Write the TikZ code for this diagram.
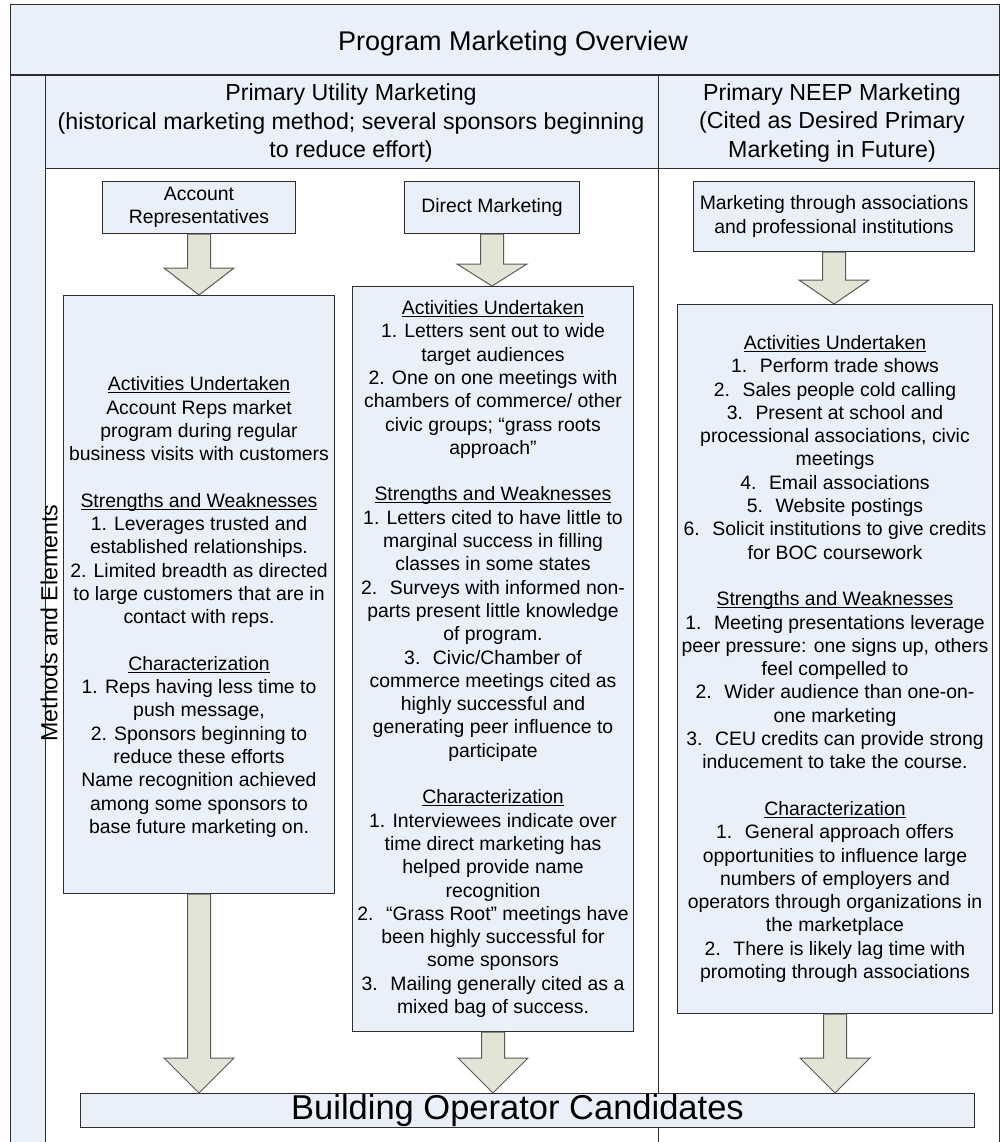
\documentclass[tikz,border=0pt]{standalone}
\usepackage{fontspec}
\setmainfont{Liberation Sans}
\usetikzlibrary{calc}
\definecolor{boxfill}{HTML}{EAF0F9}
\definecolor{arrfill}{HTML}{E2E5D6}
\definecolor{arrline}{HTML}{5A5A5A}
\definecolor{boxline}{HTML}{2E2E2E}
\newcommand\hd[1]{\setbox0=\hbox{#1}\rlap{\rule[-2.4pt]{\wd0}{0.9pt}}\box0}
\newcommand\blockarrow[3]{%
  \draw[arrline, fill=arrfill, line width=1pt, line join=miter]
    let \p1=(#1), \p2=(#2) in
    (\x1-11.5pt,\y1) -- (\x1-11.5pt,\y2+#3pt) -- (\x1-35pt,\y2+#3pt) -- (\x1,\y2)
    -- (\x1+35pt,\y2+#3pt) -- (\x1+11.5pt,\y2+#3pt) -- (\x1+11.5pt,\y1) -- cycle;}
\begin{document}
\begin{tikzpicture}[x=1pt,y=-1pt,
  frame/.style={draw=boxline, line width=1pt},
  box/.style={draw=boxline, fill=boxfill, line width=1pt, inner sep=0pt,
    anchor=north west, align=center, font=\fontsize{19.4}{23.3}\selectfont},
  hdr/.style={align=center, inner sep=0pt, font=\fontsize{23.2}{28.5}\selectfont}]
\useasboundingbox (0,0) rectangle (1000,1142);
% backgrounds
\fill[boxfill] (10,5) rectangle (999,75);
\fill[boxfill] (10,75) rectangle (45,1142);
\fill[boxfill] (45,75) rectangle (999,169);
% frame lines
\draw[frame] (10,1142) -- (10,5) -- (999,5) -- (999,1142);
\draw[boxline, line width=2pt] (10,75) -- (999,75);
\draw[frame] (45,75) -- (45,1142);
\draw[frame] (45,169) -- (999,169);
\draw[frame] (658,75) -- (658,1142);
% texts of bands
\node[inner sep=0pt, font=\fontsize{27}{32}\selectfont] (title) at (513,44) {Program Marketing Overview};
\node[hdr] (hutil) at (351,123) {Primary Utility Marketing\\(historical marketing method; several sponsors beginning\\to reduce effort)};
\node[hdr] (hneep) at (832,123) {Primary NEEP Marketing\\(Cited as Desired Primary\\Marketing in Future)};
\node[inner sep=0pt, rotate=90, font=\fontsize{23.2}{28}\selectfont] (side) at (49,623) {Methods and Elements};
% top boxes
\node[box, minimum width=193, minimum height=52] (acc) at (102,181) {Account\\Representatives};
\node[box, minimum width=175, minimum height=52] (dir) at (404,181) {Direct Marketing};
\node[box, minimum width=281, minimum height=70] (assoc) at (693,181) {Marketing through associations\\and professional institutions};
% big boxes
\node[box, minimum width=271, minimum height=598] (accbox) at (63,295) {%
\rule{0pt}{0pt}\\[16pt]
\hd{Activities Undertaken}\\
Account Reps market\\
program during regular\\
business visits with customers\\[23.3pt]
\hd{Strengths and Weaknesses}\\
1. Leverages trusted and\\
established relationships.\\
2. Limited breadth as directed\\
to large customers that are in\\
contact with reps.\\[23.3pt]
\hd{Characterization}\\
1. Reps having less time to\\
push message,\\
2. Sponsors beginning to\\
reduce these efforts\\
Name recognition achieved\\
among some sponsors to\\
base future marketing on.};
\node[box, minimum width=281, minimum height=745] (dirbox) at (352,286) {%
\hd{Activities Undertaken}\\
1. Letters sent out to wide\\
target audiences\\
2. One on one meetings with\\
chambers of commerce/ other\\
civic groups; “grass roots\\
approach”\\[23.3pt]
\hd{Strengths and Weaknesses}\\
1. Letters cited to have little to\\
marginal success in filling\\
classes in some states\\
2.~ Surveys with informed non-\\
parts present little knowledge\\
of program.\\
3.~ Civic/Chamber of\\
commerce meetings cited as\\
highly successful and\\
generating peer influence to\\
participate\\[23.3pt]
\hd{Characterization}\\
1. Interviewees indicate over\\
time direct marketing has\\
helped provide name\\
recognition\\
2.~ “Grass Root” meetings have\\
been highly successful for\\
some sponsors\\
3.~ Mailing generally cited as a\\
mixed bag of success.};
\node[box, minimum width=315, minimum height=709] (assocbox) at (677,304) {%
\hd{Activities Undertaken}\\
1.~ Perform trade shows\\
2.~ Sales people cold calling\\
3.~ Present at school and\\
processional associations, civic\\
meetings\\
4.~ Email associations\\
5.~ Website postings\\
6.~ Solicit institutions to give credits\\
for BOC coursework\\[23.3pt]
\hd{Strengths and Weaknesses}\\
1.~ Meeting presentations leverage\\
peer pressure: one signs up, others\\
feel compelled to\\
2.~ Wider audience than one-on-\\
one marketing\\
3.~ CEU credits can provide strong\\
inducement to take the course.\\[23.3pt]
\hd{Characterization}\\
1.~ General approach offers\\
opportunities to influence large\\
numbers of employers and\\
operators through organizations in\\
the marketplace\\
2.~ There is likely lag time with\\
promoting through associations};
% bottom box
\node[box, minimum width=894, minimum height=34, font=\fontsize{34.5}{40}\selectfont] (bld) at (80,1093) {\hspace*{-20pt}Building Operator Candidates};
% block arrows
\blockarrow{acc.south}{accbox.north}{27}
\blockarrow{dir.south}{dirbox.north}{22}
\blockarrow{assoc.south}{assocbox.north}{24}
\blockarrow{accbox.south}{bld.north}{35}
\blockarrow{dirbox.south}{bld.north}{35}
\blockarrow{assocbox.south}{bld.north}{35}
\end{tikzpicture}
\end{document}
